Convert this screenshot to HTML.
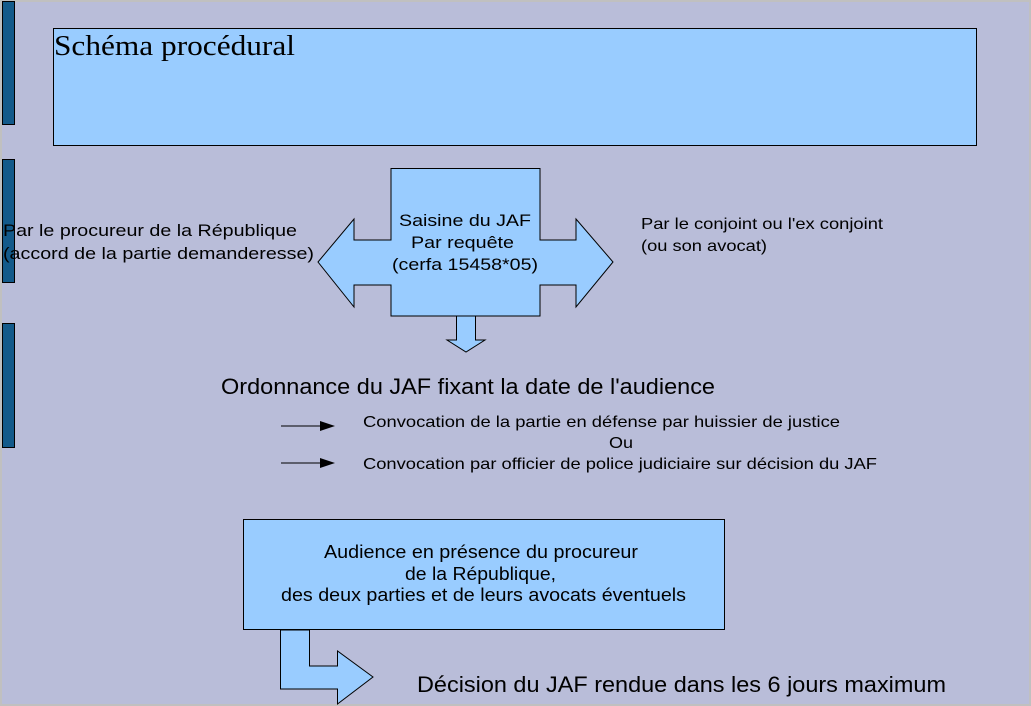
<!DOCTYPE html>
<html><head><meta charset="utf-8"><style>
html,body{margin:0;padding:0;width:1031px;height:706px;overflow:hidden;background:#c0c0c0}
svg{display:block}
text{font-family:"Liberation Sans",Arial,sans-serif;fill:#000}
</style></head><body>
<svg width="1031" height="706" viewBox="0 0 1031 706">
<rect x="2" y="2" width="1027" height="702" fill="#b9bdd9"/>
<g fill="#135a8a" stroke="#000" stroke-width="1">
<rect x="2.5" y="1.5" width="12" height="123"/>
<rect x="2.5" y="159.5" width="12" height="123"/>
<rect x="2.5" y="323.5" width="12" height="124"/>
</g>
<rect x="53.5" y="28.5" width="923" height="117" fill="#99ccff" stroke="#000"/>
<text x="54" y="55" style="font-family:'Liberation Serif',serif;font-size:28px" textLength="241" lengthAdjust="spacingAndGlyphs">Schéma procédural</text>

<polygon points="318,262 354,219 354,240 391,240 391,168.5 540,168.5 540,240 576,240 576,219 613,262 576,307 576,285 540,285 540,316 391,316 391,285 354,285 354,307" fill="#99ccff" stroke="#000"/>
<g font-size="17" lengthAdjust="spacingAndGlyphs">
<text x="399" y="226" textLength="132" lengthAdjust="spacingAndGlyphs">Saisine du JAF</text>
<text x="411" y="248" textLength="103" lengthAdjust="spacingAndGlyphs">Par requête</text>
<text x="392" y="270" textLength="146" lengthAdjust="spacingAndGlyphs">(cerfa 15458*05)</text>
<text x="3" y="236" textLength="294" lengthAdjust="spacingAndGlyphs">Par le procureur de la République</text>
<text x="3" y="259" textLength="311" lengthAdjust="spacingAndGlyphs">(accord de la partie demanderesse)</text>
</g>

<polygon points="456.5,316 475.5,316 475.5,340 485,340 466,352 447,340 456.5,340" fill="#99ccff" stroke="#000"/>

<g font-size="16">
<text x="641" y="229" textLength="242" lengthAdjust="spacingAndGlyphs">Par le conjoint ou l'ex conjoint</text>
<text x="641" y="251" textLength="126" lengthAdjust="spacingAndGlyphs">(ou son avocat)</text>
</g>

<text x="221" y="394" font-size="22" textLength="494" lengthAdjust="spacingAndGlyphs">Ordonnance du JAF fixant la date de l'audience</text>

<line x1="281" y1="426" x2="322" y2="426" stroke="#000"/>
<polygon points="320,421 335,426 320,431" fill="#000"/>
<line x1="281" y1="463" x2="322" y2="463" stroke="#000"/>
<polygon points="320,458 335,463 320,468" fill="#000"/>
<g font-size="16">
<text x="363" y="427" textLength="477" lengthAdjust="spacingAndGlyphs">Convocation de la partie en défense par huissier de justice</text>
<text x="609" y="448" textLength="24" lengthAdjust="spacingAndGlyphs">Ou</text>
<text x="363" y="469" textLength="514" lengthAdjust="spacingAndGlyphs">Convocation par officier de police judiciaire sur décision du JAF</text>
</g>

<polygon points="280.5,630 309.5,630 309.5,666 337.5,666 337.5,651 373,677 337.5,704 337.5,689 280.5,689" fill="#99ccff" stroke="#000"/>
<rect x="243.5" y="519.5" width="481" height="110" fill="#99ccff" stroke="#000"/>
<g font-size="18">
<text x="324" y="558" textLength="314" lengthAdjust="spacingAndGlyphs">Audience en présence du procureur</text>
<text x="405" y="580" textLength="151" lengthAdjust="spacingAndGlyphs">de la République,</text>
<text x="281" y="601" textLength="405" lengthAdjust="spacingAndGlyphs">des deux parties et de leurs avocats éventuels</text>
</g>

<text x="417" y="692" font-size="22" textLength="529" lengthAdjust="spacingAndGlyphs">Décision du JAF rendue dans les 6 jours maximum</text>
</svg>
</body></html>
